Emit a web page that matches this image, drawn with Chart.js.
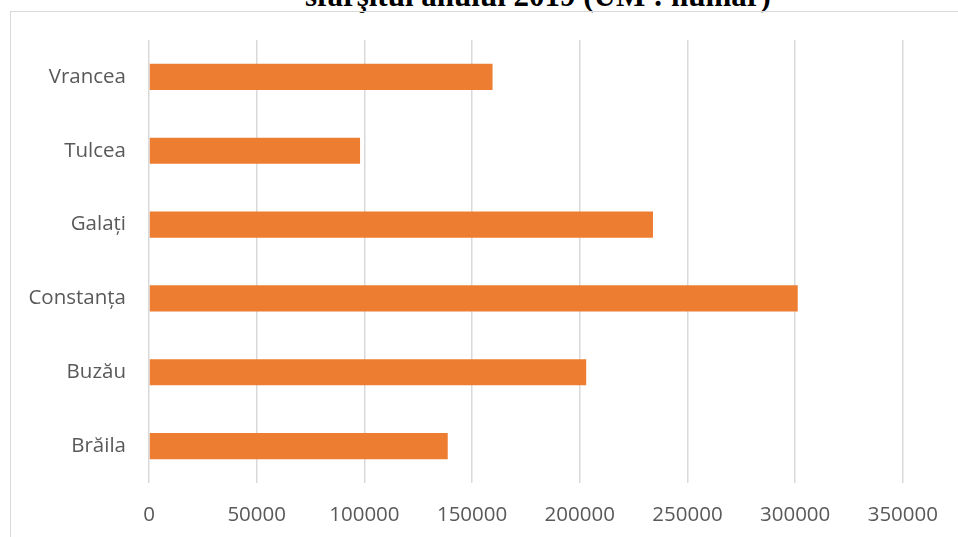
<!DOCTYPE html>
<html>
<head>
<meta charset="utf-8">
<script src="https://cdn.jsdelivr.net/npm/chart.js@4"></script>
<style>
  html, body { margin: 0; padding: 0; background: #fff; }
  #wrap { position: relative; width: 958px; height: 537px; overflow: hidden; }
  #title {
    position: absolute; left: 0; width: 1076px; top: -20px;
    text-align: center; font: bold 31px/31px "Liberation Serif", "Times New Roman", serif;
    color: #000; white-space: nowrap;
  }
  #box {
    position: absolute; left: 10px; top: 11px; width: 1000px; height: 600px;
    border: 1px solid #d9d9d9;
  }
  canvas { position: absolute; left: 0; top: 0; }
</style>
</head>
<body>
<div id="wrap">
  <div id="title">sfarşitul anului 2019 (UM : număr)</div>
  <div id="box"></div>
  <canvas id="barChart" width="958" height="537"></canvas>
</div>
<script>
const counties = ["Vrancea", "Tulcea", "Galați", "Constanța", "Buzău", "Brăila"];
const values = [159500, 98000, 234000, 301200, 203000, 138700];
const xTicks = [0, 50000, 100000, 150000, 200000, 250000, 300000, 350000];

const ctx = document.getElementById("barChart").getContext("2d");

new Chart(ctx, {
  type: "bar",
  data: {
    labels: counties,
    datasets: [
      {
        data: values,
        backgroundColor: "#ED7D31",
        categoryPercentage: 1,
        barPercentage: 0.355,
      },
    ],
  },
  options: {
    indexAxis: "y",
    responsive: false,
    animation: false,
    layout: { padding: { top: 40, right: 53, left: 0, bottom: 0 } },
    plugins: { legend: { display: false }, tooltip: { enabled: false } },
    scales: {
      x: {
        min: 0,
        max: 350000,
        afterBuildTicks: (scale) => {
          scale.ticks = xTicks.map((v) => ({ value: v }));
        },
        afterFit: (scale) => { scale.height = 54; },
        grid: { color: "#d9d9d9", lineWidth: 1.5, drawTicks: false },
        border: { display: false },
        ticks: {
          color: "#595959",
          padding: 20,
          font: { family: "'Open Sans'", size: 20.5 },
          callback: (v) => String(v),
        },
      },
      y: {
        afterFit: (scale) => { scale.width = 149; },
        grid: { display: false },
        border: { display: false },
        ticks: {
          color: "#595959",
          padding: 15,
          font: { family: "'Open Sans'", size: 20.5 },
        },
      },
    },
  },
});
</script>
</body>
</html>
